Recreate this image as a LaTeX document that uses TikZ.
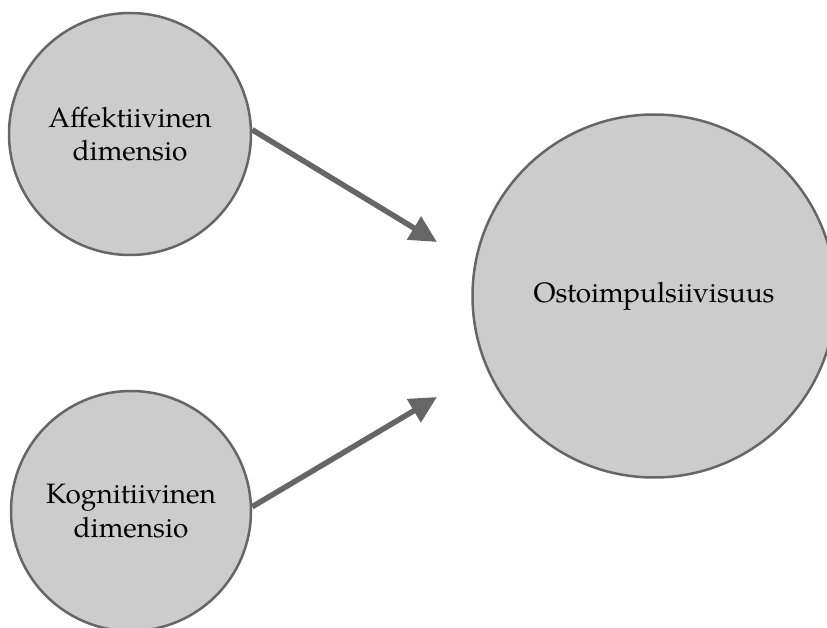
\documentclass[tikz,border=0pt]{standalone}
\usepackage{fontspec}
\setmainfont{TeX Gyre Pagella}
\usetikzlibrary{arrows.meta}
\definecolor{fillgray}{HTML}{CCCCCC}
\definecolor{edgegray}{HTML}{666666}
\tikzset{
  bubble/.style={circle, draw=edgegray, fill=fillgray, line width=2.5pt, inner sep=0pt,
    align=center, font=\fontsize{28}{33.5}\selectfont},
  link/.style={draw=edgegray, line width=5.5pt, -{Triangle[length=27pt,width=26pt]}}
}
\begin{document}
\begin{tikzpicture}[x=1pt,y=-1pt]
\useasboundingbox (0,0) rectangle (827,628);
\node[bubble, minimum size=242pt] (aff) at (130,134) {Affektiivinen\\dimensio};
\node[bubble, minimum size=240pt] (kog) at (131,511) {Kognitiivinen\\dimensio};
\node[bubble, minimum size=363pt] (osto) at (654,296) {Ostoimpulsiivisuus};
\coordinate (t1) at (437,242);
\coordinate (t2) at (437,397);
\draw[link] (aff.2) -- (t1);
\draw[link] (kog.2) -- (t2);
\end{tikzpicture}
\end{document}
